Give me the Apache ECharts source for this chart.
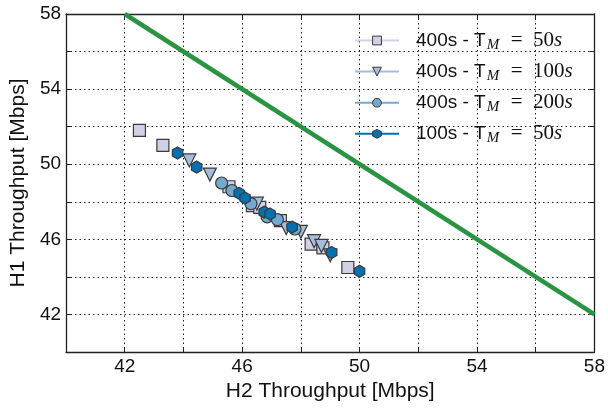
<!DOCTYPE html>
<html>
<head>
<meta charset="utf-8">
<script src="https://cdn.jsdelivr.net/npm/echarts@6/dist/echarts.min.js"></script>
<style>html,body{margin:0;padding:0;background:#fff}#c{width:608px;height:409px}</style>
</head>
<body>
<div id="c"></div>
<script>
// H2 throughput (x) and H1 throughput (y), Mbps
const sq400_50_x  = [42.5, 43.3, 45.55, 46.35, 46.6, 47.3, 48.35, 48.75, 49.6];
const sq400_50_y  = [51.8, 51.0, 48.8, 47.8, 47.7, 47.0, 45.75, 45.55, 44.5];
const tri400_100_x = [44.2, 44.9, 46.5, 47.5, 48.0, 48.45, 48.7, 49.0];
const tri400_100_y = [50.2, 49.45, 47.9, 46.6, 46.4, 45.9, 45.65, 45.15];
const cir400_200_x = [45.3, 45.65, 46.3, 46.85, 47.2, 47.8];
const cir400_200_y = [49.0, 48.6, 47.9, 47.2, 47.05, 46.55];
const hex100_50_x = [43.8, 44.45, 45.9, 46.1, 46.75, 46.95, 47.7, 49.05, 50.0];
const hex100_50_y = [50.6, 49.85, 48.45, 48.2, 47.45, 47.35, 46.65, 45.3, 44.3];
const limitLine_x = [42, 58];
const limitLine_y = [58, 42];
const legendNames = ['400s - T_M = 50s', '400s - T_M = 100s', '400s - T_M = 200s', '100s - T_M = 50s'];
const legendPrefix = ['400s - T', '400s - T', '400s - T', '100s - T'];
const legendSuffix = ['50', '100', '200', '50'];
const tickLabels = [42, 46, 50, 54, 58];

const zip = (xs, ys) => xs.map((v, i) => [v, ys[i]]);
const hexPath = 'path://M0,-1 L0.866,-0.5 L0.866,0.5 L0,1 L-0.866,0.5 L-0.866,-0.5 Z';
const cols = ['#d0d1e6', '#a6bddb', '#74a9cf', '#0570b0'];
const fmtTick = v => tickLabels.indexOf(v) >= 0 ? String(v) : '';

const axisCommon = {
  type: 'value', min: 40, max: 58, interval: 2,
  axisLine: { show: true, lineStyle: { color: '#222', width: 1.3 } },
  axisTick: { show: true, inside: true, length: 5, lineStyle: { color: '#222', width: 1 } },
  splitLine: { show: false }
};

const chart = echarts.init(document.getElementById('c'), null, { renderer: 'canvas' });
const mk = (name, xs, ys, symbol, size, color, rot) => ({
  name, type: 'line', data: zip(xs, ys), symbol, symbolSize: size, symbolRotate: rot || 0,
  symbolKeepAspect: true,
  showSymbol: true, xAxisIndex: 0, yAxisIndex: 0,
  lineStyle: { opacity: 0, width: 0 },
  itemStyle: { color, borderColor: '#3a3a3a', borderWidth: 1.2, opacity: 1 },
  emphasis: { disabled: true }, animation: false
});

chart.setOption({
  animation: false,
  grid: { left: 66, right: 11, top: 14, bottom: 57, show: false },
  xAxis: [
    Object.assign({}, axisCommon, {
      position: 'bottom',
      name: 'H2 Throughput [Mbps]', nameLocation: 'middle', nameGap: 28,
      nameTextStyle: { fontFamily: 'Liberation Sans', fontSize: 21, color: '#111' },
      axisLabel: { formatter: fmtTick, fontFamily: 'Liberation Sans', fontSize: 19, color: '#111', margin: 5, showMinLabel: true, showMaxLabel: true },
      splitLine: { show: true, lineStyle: { type: [1.5, 3], color: '#222', width: 1 } }
    }),
    Object.assign({}, axisCommon, { position: 'top', axisLabel: { show: false } })
  ],
  yAxis: [
    Object.assign({}, axisCommon, {
      position: 'left',
      name: 'H1 Throughput [Mbps]', nameLocation: 'middle', nameGap: 33,
      nameTextStyle: { fontFamily: 'Liberation Sans', fontSize: 21, color: '#111' },
      axisLabel: { formatter: fmtTick, fontFamily: 'Liberation Sans', fontSize: 19, color: '#111', margin: 5, showMinLabel: true, showMaxLabel: true },
      splitLine: { show: true, lineStyle: { type: [1.5, 3], color: '#222', width: 1 } }
    }),
    Object.assign({}, axisCommon, { position: 'right', axisLabel: { show: false } })
  ],
  legend: {
    orient: 'vertical', left: 349, top: 25, itemGap: 8.6, itemWidth: 44, itemHeight: 11,
    selectedMode: false,
    data: legendNames.map((n, i) => ({
      name: n,
      lineStyle: { opacity: 1, width: 2, color: cols[i] },
      itemStyle: { borderWidth: 1 }
    })),
    formatter: name => {
      const i = legendNames.indexOf(name);
      return '{p|}{a|' + legendPrefix[i] + '}{s|M}{b|  =  ' + legendSuffix[i] + '}{c|s}';
    },
    textStyle: {
      color: '#111',
      rich: {
        p: { width: 12, fontSize: 19, lineHeight: 24 },
        a: { fontFamily: 'Liberation Sans', fontSize: 19, color: '#111', lineHeight: 24 },
        s: { fontFamily: 'Liberation Serif', fontStyle: 'italic', fontSize: 15, color: '#111', verticalAlign: 'bottom', padding: [0, 1, 0, 1] },
        b: { fontFamily: 'Liberation Serif', fontSize: 21, color: '#111', lineHeight: 24 },
        c: { fontFamily: 'Liberation Serif', fontStyle: 'italic', fontSize: 21, color: '#111', lineHeight: 24 }
      }
    }
  },
  series: [
    {
      name: 'limit', type: 'line', data: zip(limitLine_x, limitLine_y), showSymbol: false, symbol: 'none',
      lineStyle: { color: '#2b9443', width: 4.5 }, z: 1, silent: true, emphasis: { disabled: true }
    },
    mk(legendNames[0], sq400_50_x, sq400_50_y, 'rect', 12, cols[0]),
    mk(legendNames[1], tri400_100_x, tri400_100_y, 'triangle', 13, cols[1], 180),
    mk(legendNames[2], cir400_200_x, cir400_200_y, 'circle', 12, cols[2]),
    mk(legendNames[3], hex100_50_x, hex100_50_y, hexPath, 12, cols[3])
  ]
});
</script>
</body>
</html>
